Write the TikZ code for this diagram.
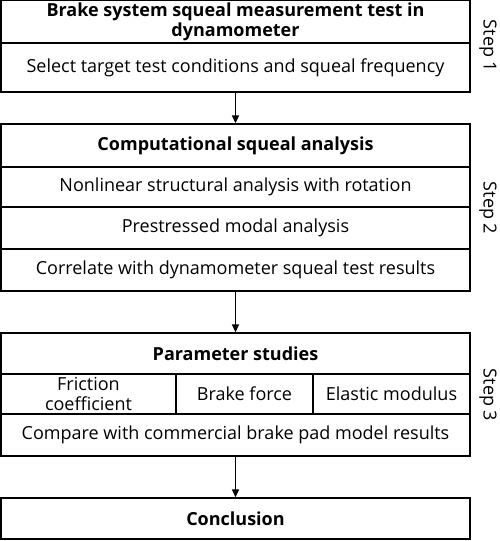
\documentclass[tikz,border=0pt]{standalone}
\usepackage{fontspec}
\setmainfont{Open Sans}
\usetikzlibrary{arrows.meta}
\tikzset{
    cell/.style={draw, line width=1.3pt, minimum width=469pt, inner sep=0pt, align=center, font=\fontsize{18}{20}\selectfont},
    titlecell/.style={cell, font=\fontsize{18}{20}\selectfont\bfseries},
    stepname/.style={rotate=-90, font=\fontsize{18}{20}\selectfont},
    flow/.style={-{Triangle[length=8pt,width=7pt]}, line width=1.3pt}
}
\begin{document}
\begin{tikzpicture}[x=1pt, y=-1pt]
    \useasboundingbox (0,0) rectangle (500,541);

    % Step 1
    \node[titlecell, minimum height=43pt] (dyno) at (235.5,21.5) {Brake system squeal measurement test in\\dynamometer};
    \node[cell, minimum height=49pt] (select) at (235.5,67.5) {Select target test conditions and squeal frequency};
    \node[stepname] (step1) at (488,46) {Step 1};

    % Step 2
    \node[titlecell, minimum height=43pt] (comp) at (235.5,145.5) {Computational squeal analysis};
    \node[cell, minimum height=40pt] (nonlin) at (235.5,187) {Nonlinear structural analysis with rotation};
    \node[cell, minimum height=42pt] (modal) at (235.5,228) {Prestressed modal analysis};
    \node[cell, minimum height=42pt] (correl) at (235.5,270) {Correlate with dynamometer squeal test results};
    \node[stepname] (step2) at (488,208) {Step 2};

    % Step 3
    \node[titlecell, minimum height=41pt] (param) at (235.5,353.5) {Parameter studies};
    \node[cell, minimum width=175pt, minimum height=40pt] (friction) at (88.5,394) {Friction\\coefficient};
    \node[cell, minimum width=137pt, minimum height=40pt] (force) at (244.5,394) {Brake force};
    \node[cell, minimum width=157pt, minimum height=40pt] (modulus) at (391.5,394) {Elastic modulus};
    \node[cell, minimum height=42pt] (compare) at (235.5,435) {Compare with commercial brake pad model results};
    \node[stepname] (step3) at (488,395) {Step 3};

    % Conclusion
    \node[titlecell, minimum height=41pt] (concl) at (235.5,518.5) {Conclusion};

    \draw[flow] (select.south) -- (comp.north);
    \draw[flow] (correl.south) -- (param.north);
    \draw[flow] (compare.south) -- (concl.north);
\end{tikzpicture}
\end{document}
